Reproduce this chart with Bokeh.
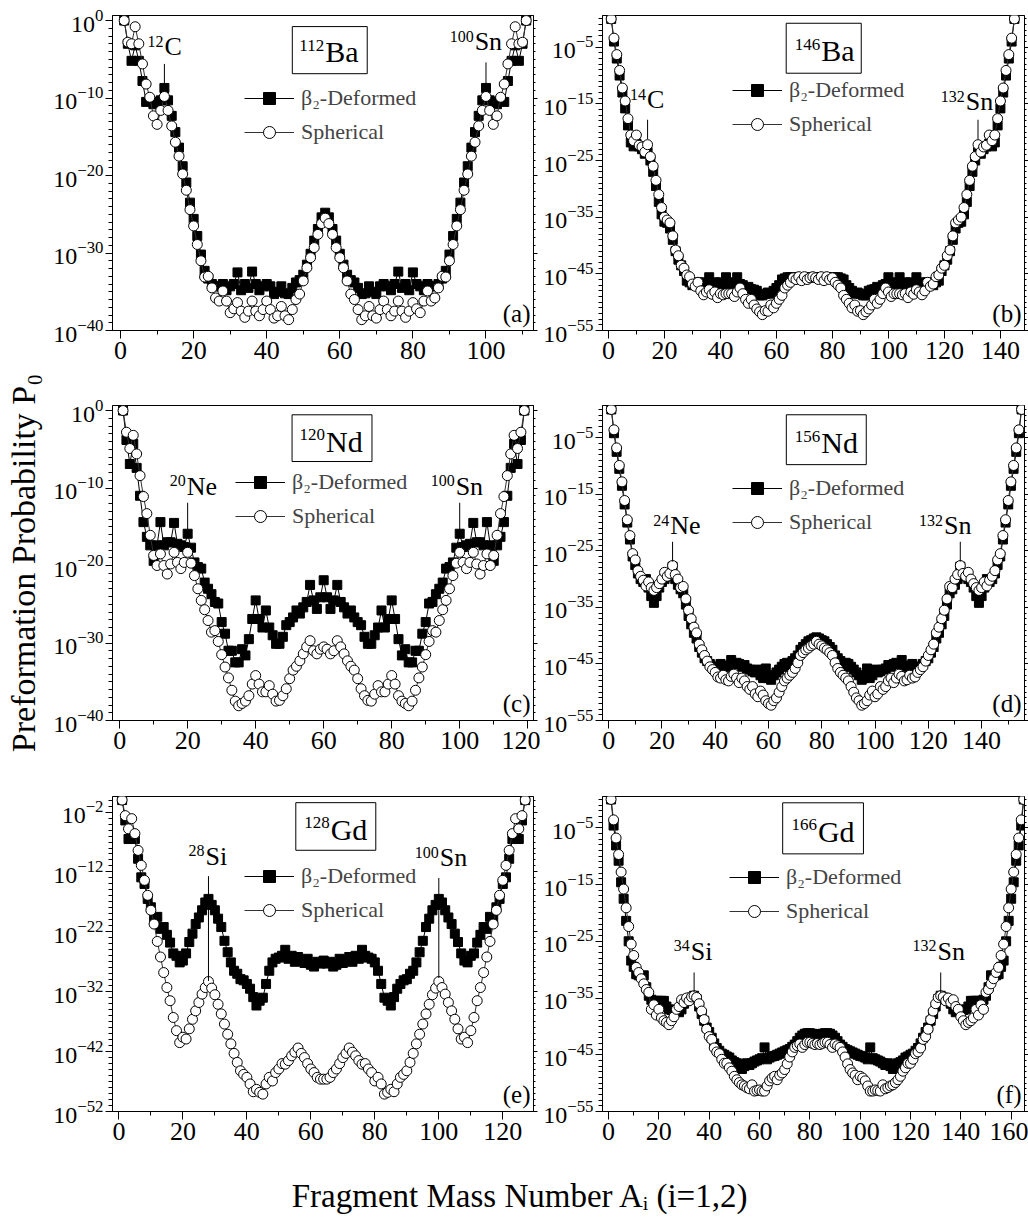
import numpy as np
from bokeh.plotting import figure
from bokeh.models import (Range1d, FixedTicker, SingleIntervalTicker, CustomJSTickFormatter,
                          LogTickFormatter, LogAxis, Label, Legend, LegendItem,
                          ColumnDataSource, BoxAnnotation)
from bokeh.layouts import column, row
from bokeh.embed import file_html
from bokeh.resources import INLINE

FONT = "Liberation Serif"

# ---------------- data: log10(P0) for fragment mass A1 = 1 .. A/2 (P0 is symmetric in A1 <-> A-A1)
mass_112Ba, mass_146Ba, mass_120Nd, mass_156Nd, mass_128Gd, mass_166Gd = 112, 146, 120, 156, 128, 166

ba112_deformed = [0.0, -3.0, -5.2, -3.2, -5.2, -7.8, -10.5, -10.3, -10.8, -10.5,
                  -10.3, -8.7, -10.3, -12.3, -14.4, -16.4, -18.8, -20.9, -23.5, -25.6,
                  -27.8, -30.2, -32.3, -33.3, -34.0, -34.3, -34.3, -34.0, -34.8, -34.3,
                  -34.0, -32.5, -34.8, -34.0, -34.5, -32.4, -34.0, -34.8, -34.3, -34.0,
                  -34.3, -35.3, -35.0, -34.3, -35.2, -35.3, -34.5, -33.8, -33.5, -32.8,
                  -31.5, -30.1, -28.4, -26.9, -25.4, -24.8]
ba112_spherical = [0.0, -2.8, -3.0, -0.8, -3.0, -5.6, -8.2, -9.9, -12.3, -13.4,
                   -11.6, -9.8, -11.6, -13.6, -15.7, -17.5, -19.8, -21.9, -24.4, -26.5,
                   -28.9, -31.0, -33.1, -33.0, -34.5, -35.8, -36.2, -34.9, -36.2, -37.7,
                   -37.2, -36.4, -37.5, -38.3, -37.5, -36.2, -37.5, -38.1, -37.3, -36.2,
                   -37.3, -38.4, -38.1, -36.9, -38.1, -38.6, -37.3, -36.0, -35.3, -33.6,
                   -31.9, -30.6, -29.3, -27.6, -26.2, -25.5]

ba146_deformed = [0.0, -4.0, -7.0, -10.0, -13.0, -15.8, -18.8, -21.8, -22.5, -22.0,
                  -22.5, -23.0, -23.8, -23.5, -25.0, -27.0, -29.5, -32.3, -34.5, -35.8,
                  -36.0, -37.0, -39.0, -41.0, -42.5, -43.5, -44.5, -46.2, -46.5, -47.0,
                  -46.8, -46.5, -47.0, -46.5, -46.8, -45.6, -46.8, -46.5, -47.0, -46.5,
                  -46.8, -45.6, -46.5, -46.8, -46.8, -45.6, -46.8, -47.0, -47.5, -47.3,
                  -47.7, -47.8, -48.0, -48.8, -48.8, -48.5, -48.3, -48.5, -48.0, -47.5,
                  -47.0, -46.0, -45.8, -45.6, -45.6, -45.6, -45.6, -45.6, -45.6, -45.6,
                  -45.6, -45.6, -45.6]
ba146_spherical = [0.0, -3.4, -6.3, -9.1, -12.2, -14.5, -17.6, -20.5, -21.5, -20.5,
                   -22.3, -22.6, -23.5, -22.2, -24.3, -26.0, -28.5, -31.0, -33.3, -35.0,
                   -35.5, -36.0, -38.3, -40.8, -41.8, -43.5, -44.0, -45.2, -45.5, -46.8,
                   -47.2, -46.5, -48.0, -48.7, -48.2, -47.8, -48.6, -48.2, -49.2, -48.5,
                   -48.7, -48.5, -48.5, -48.5, -49.0, -48.2, -47.5, -48.5, -49.5, -50.2,
                   -49.5, -50.5, -51.2, -51.7, -52.2, -51.5, -51.6, -50.5, -51.0, -50.2,
                   -49.5, -48.8, -47.5, -47.0, -46.5, -45.7, -46.0, -45.5, -46.2, -45.5,
                   -46.0, -45.7, -45.5]

nd120_deformed = [0.0, -3.8, -6.9, -4.3, -7.4, -11.0, -14.4, -16.3, -17.4, -19.4,
                  -17.4, -14.4, -17.4, -17.0, -17.0, -14.5, -17.2, -17.4, -17.6, -15.9,
                  -17.7, -19.6, -20.2, -20.4, -22.2, -23.0, -23.7, -24.7, -24.9, -27.3,
                  -28.8, -31.0, -31.0, -32.5, -32.5, -30.8, -31.6, -29.5, -26.9, -24.5,
                  -26.9, -28.0, -25.8, -28.0, -29.0, -30.1, -30.1, -29.2, -27.7, -27.3,
                  -26.7, -25.8, -26.2, -25.4, -24.7, -22.5, -24.5, -25.6, -24.1, -21.9]
nd120_spherical = [0.0, -2.8, -4.9, -3.2, -5.6, -8.4, -11.1, -13.3, -16.1, -18.7,
                   -20.0, -18.5, -20.0, -21.1, -19.8, -18.3, -19.6, -20.4, -19.6, -18.3,
                   -19.7, -21.3, -23.0, -24.5, -25.7, -27.1, -28.6, -28.4, -29.8, -31.5,
                   -33.1, -34.5, -36.1, -37.5, -38.1, -37.8, -37.5, -36.8, -35.3, -34.2,
                   -35.3, -36.3, -36.3, -35.5, -36.6, -37.5, -37.4, -36.8, -35.9, -34.6,
                   -33.5, -33.0, -32.3, -31.4, -30.5, -29.7, -31.0, -31.4, -30.8, -30.5]

nd156_deformed = [0.0, -4.2, -7.5, -10.5, -13.5, -16.8, -20.0, -23.0, -26.0, -27.5,
                  -29.0, -30.0, -30.5, -30.0, -31.5, -33.0, -34.2, -33.0, -31.5, -30.5,
                  -30.0, -29.5, -29.0, -27.8, -30.0, -31.0, -31.8, -32.5, -34.5, -36.5,
                  -38.0, -39.5, -40.5, -42.0, -43.0, -44.0, -44.5, -45.0, -45.5, -45.5,
                  -45.5, -45.0, -45.5, -45.3, -45.5, -44.3, -45.0, -44.8, -45.0, -45.5,
                  -45.2, -45.8, -46.0, -46.3, -46.5, -46.0, -47.0, -47.5, -45.8, -47.5,
                  -47.8, -47.0, -46.5, -46.0, -45.5, -45.0, -44.8, -45.5, -44.5, -44.0,
                  -43.5, -42.5, -42.0, -41.5, -41.0, -40.8, -40.5, -40.3]
nd156_spherical = [0.0, -3.6, -6.8, -9.9, -12.8, -16.1, -19.5, -22.3, -25.5, -26.6,
                   -28.5, -29.5, -30.2, -31.2, -30.5, -31.5, -32.0, -31.5, -30.8, -30.0,
                   -28.8, -29.5, -29.0, -27.6, -29.2, -30.0, -31.5, -31.3, -33.5, -35.5,
                   -37.0, -38.5, -39.5, -41.5, -42.5, -43.5, -44.5, -45.5, -46.0, -46.5,
                   -47.3, -47.5, -47.0, -47.8, -48.0, -47.2, -46.8, -47.5, -48.3, -47.5,
                   -48.0, -49.0, -49.5, -49.0, -50.3, -50.8, -49.8, -50.5, -51.5, -52.0,
                   -52.3, -51.5, -51.0, -50.0, -49.0, -48.0, -47.5, -47.0, -46.5, -45.8,
                   -44.8, -43.5, -43.0, -42.5, -42.2, -41.8, -41.5, -41.0]

gd128_deformed = [0.0, -3.4, -6.5, -5.9, -6.5, -9.8, -12.9, -14.0, -16.5, -17.9,
                  -19.8, -19.5, -21.5, -21.2, -22.5, -23.8, -25.6, -26.0, -27.1, -26.8,
                  -25.6, -23.7, -22.3, -20.7, -19.6, -18.4, -17.1, -16.5, -17.5, -18.4,
                  -19.8, -21.2, -23.5, -25.4, -27.1, -28.5, -29.0, -29.9, -30.1, -30.7,
                  -31.5, -32.9, -34.3, -33.5, -33.0, -30.7, -28.5, -27.1, -26.5, -26.3,
                  -26.0, -25.0, -26.5, -26.0, -27.0, -26.2, -26.8, -27.2, -26.5, -27.5,
                  -27.8, -27.0, -27.3, -26.8]
gd128_spherical = [0.0, -2.6, -4.8, -3.1, -5.6, -8.4, -10.9, -13.4, -15.9, -18.4,
                   -20.7, -23.6, -26.2, -28.8, -31.3, -33.5, -36.3, -38.5, -40.5, -39.6,
                   -39.9, -38.2, -36.6, -35.2, -33.8, -32.4, -31.3, -30.3, -31.4, -32.5,
                   -34.1, -35.7, -37.4, -39.1, -40.7, -42.3, -43.8, -45.2, -45.8, -46.3,
                   -47.4, -48.7, -48.3, -48.8, -49.1, -47.4, -46.3, -46.9, -45.5, -44.9,
                   -44.0, -44.1, -43.5, -42.7, -42.1, -41.4, -42.3, -43.0, -44.0, -44.9,
                   -45.5, -46.3, -46.6, -46.6]

gd166_deformed = [0.0, -4.6, -8.1, -10.8, -14.6, -17.5, -21.4, -25.0, -28.4, -29.5,
                  -30.8, -31.0, -31.1, -31.0, -33.1, -34.6, -35.3, -35.5, -35.5, -35.5,
                  -35.5, -35.5, -36.5, -37.0, -37.1, -37.1, -37.1, -37.5, -37.0, -36.0,
                  -35.5, -35.2, -34.9, -34.6, -35.2, -36.5, -37.8, -39.0, -40.2, -41.0,
                  -42.0, -43.0, -43.8, -44.3, -44.8, -45.0, -45.3, -45.5, -46.0, -46.3,
                  -46.5, -46.8, -47.5, -47.0, -46.5, -46.8, -46.5, -46.2, -46.0, -45.8,
                  -45.6, -43.7, -45.8, -45.5, -45.3, -45.2, -45.0, -44.8, -44.6, -44.4,
                  -44.2, -44.0, -43.6, -43.2, -42.6, -42.0, -41.6, -41.3, -41.2, -41.2,
                  -41.3, -41.4, -41.4]
gd166_spherical = [0.0, -3.6, -6.8, -9.7, -12.8, -15.8, -19.1, -22.4, -25.5, -27.5,
                   -29.6, -30.5, -31.6, -32.5, -33.5, -34.0, -37.0, -36.2, -38.0, -37.0,
                   -38.5, -39.0, -39.3, -39.7, -39.0, -38.3, -37.0, -36.5, -35.3, -35.8,
                   -35.0, -35.5, -34.8, -34.6, -34.9, -36.0, -37.3, -38.8, -40.5, -41.8,
                   -42.3, -43.8, -44.5, -44.8, -45.8, -46.5, -46.5, -47.3, -47.9, -48.8,
                   -49.4, -49.9, -50.3, -50.5, -50.8, -51.0, -50.3, -51.4, -51.3, -51.2,
                   -51.4, -51.4, -50.5, -49.6, -49.1, -48.8, -49.4, -48.6, -48.2, -47.6,
                   -46.6, -45.4, -44.5, -43.7, -43.4, -43.1, -43.7, -43.2, -42.8, -42.8,
                   -43.0, -43.2, -43.0]

# ---------------- helpers
def full_curve(half):
    h = list(half)
    return h + h[-2::-1]          # mirror: P0(A1) = P0(A - A1)

FRAME_W = {"L": 421, "R": 422}
BASE_FIX = 0.35   # baseline correction (fraction of font size)


def sup_label(p, xj, ylog, sup, main, main_size, sup_size, raise_px):
    p.add_layout(Label(x=xj, y=10.0 ** ylog, y_offset=BASE_FIX * main_size, text=main,
                       text_align="left", text_baseline="alphabetic", text_font=FONT,
                       text_font_size=f"{main_size}px", text_color="black"))
    p.add_layout(Label(x=xj, y=10.0 ** ylog, x_offset=-1,
                       y_offset=raise_px + BASE_FIX * sup_size, text=sup,
                       text_align="right", text_baseline="alphabetic", text_font=FONT,
                       text_font_size=f"{sup_size}px", text_color="black"))


def make_panel(A, dhalf, shalf, side, xr, ylog, major_exp, borders, nucleus, box,
               legend_loc, annotations, tag, ylabel=None):
    xs = list(range(1, A))
    d = 10.0 ** np.array(full_curve(dhalf))
    s = 10.0 ** np.array(full_curve(shalf))
    src = ColumnDataSource(dict(x=xs, d=d, s=s))
    bl, br, bt, bb = borders
    fw = FRAME_W[side]
    p = figure(width=bl + fw + br, height=bt + 315 + bb,
               x_range=Range1d(*xr), y_range=Range1d(10.0 ** ylog[0], 10.0 ** ylog[1]),
               y_axis_type="log", output_backend="svg", toolbar_location=None,
               min_border_left=bl, min_border_right=br, min_border_top=bt, min_border_bottom=bb)
    p.grid.visible = False
    p.outline_line_color = "black"
    p.outline_line_alpha = 1.0
    p.outline_line_width = 1
    p.background_fill_color = "white"

    lo, hi = int(np.floor(ylog[0])), int(np.ceil(ylog[1]))
    ya = p.left[0]
    ya.ticker = FixedTicker(ticks=[10.0 ** k for k in major_exp],
                            minor_ticks=[10.0 ** k for k in range(lo, hi + 1)])
    ya.formatter = LogTickFormatter()
    ya.major_label_text_font = FONT
    ya.major_label_text_font_size = "24px"
    ya.major_label_text_color = "black"
    ya.major_label_standoff = 2
    ya.major_tick_out = 7
    ya.major_tick_in = 0
    ya.minor_tick_out = 4
    ya.minor_tick_in = 0
    ya.axis_line_color = "black"
    if ylabel:
        ya.axis_label = ylabel
        ya.axis_label_text_font = FONT
        ya.axis_label_text_font_size = "34px"
        ya.axis_label_text_font_style = "normal"
        ya.axis_label_text_color = "black"
        ya.axis_label_standoff = 8

    ra = LogAxis(ticker=FixedTicker(ticks=[10.0 ** k for k in major_exp],
                                    minor_ticks=[10.0 ** k for k in range(lo, hi + 1)]),
                 formatter=CustomJSTickFormatter(code='return "";'),
                 major_label_text_font_size="8px", major_label_standoff=0,
                 major_tick_out=4, major_tick_in=0, minor_tick_out=2, minor_tick_in=0,
                 axis_line_color="black")
    p.add_layout(ra, "right")

    xa = p.below[0]
    xa.ticker = SingleIntervalTicker(interval=20, num_minor_ticks=2)
    xa.major_label_text_font = FONT
    xa.major_label_text_font_size = "26px"
    xa.major_label_text_color = "black"
    xa.major_label_standoff = 3
    xa.major_tick_out = 8
    xa.major_tick_in = 0
    xa.minor_tick_out = 4
    xa.minor_tick_in = 0
    xa.axis_line_color = "black"

    dl = p.line("x", "d", source=src, line_color="black", line_width=1)
    dm = p.scatter("x", "d", source=src, marker="square", size=9,
                   fill_color="black", line_color="black", line_width=1)
    sl = p.line("x", "s", source=src, line_color="#333333", line_width=1)
    sm = p.scatter("x", "s", source=src, marker="circle", size=10,
                   fill_color="white", line_color="black", line_width=1)

    leg = Legend(items=[LegendItem(label="\u03b2\u2082-Deformed", renderers=[dl, dm]),
                        LegendItem(label="Spherical", renderers=[sl, sm])],
                 location=legend_loc, padding=0, margin=0, spacing=4,
                 glyph_width=50, glyph_height=30, label_standoff=7,
                 label_text_font=FONT, label_text_font_size="22px",
                 border_line_color=None, background_fill_alpha=0.0)
    p.add_layout(leg)

    # framed nucleus name
    bx0, bx1, by0, by1 = box
    p.add_layout(BoxAnnotation(left=bx0, right=bx1, top=10.0 ** by0, bottom=10.0 ** by1,
                               fill_color="white", fill_alpha=1.0,
                               line_color="black", line_width=1, line_alpha=1.0))
    n_sup, n_main, n_x, n_y = nucleus
    sup_label(p, n_x, n_y, n_sup, n_main, 30, 17, 11)

    for (sup, main, tx, ty, lx, ly0, ly1) in annotations:
        sup_label(p, tx, ty, sup, main, 26, 16, 9)
        p.segment(x0=[lx], y0=[10.0 ** ly0], x1=[lx], y1=[10.0 ** ly1],
                  line_color="black", line_width=1)

    p.add_layout(Label(x=fw - 3, y=4, x_units="screen", y_units="screen", text=tag,
                       text_align="right", text_baseline="bottom", text_font=FONT,
                       text_font_size="25px", text_color="black"))
    return p


pa = make_panel(mass_112Ba, ba112_deformed, ba112_spherical, "L", (-2.2, 113.0), (-40, 0.65),
                [0, -10, -20, -30, -40], (112, 7, 15, 45),
                ("112", "Ba", 56.0, -5.39), (47.0, 67.5, -0.78, -6.86),
                (132, 183),
                [("12", "C", 12.0, -4.53, 12, -5.6, -8.2),
                 ("100", "Sn", 96.9, -3.88, 100, -5.4, -8.4)], "(a)")
pb = make_panel(mass_146Ba, ba146_deformed, ba146_spherical, "R", (-2.1, 148.6), (-55, 0.6),
                [-5, -15, -25, -35, -45, -55], (62, 4, 15, 45),
                ("146", "Ba", 76.0, -7.47), (63.5, 90.3, -0.77, -9.59),
                (130, 191),
                [("14", "C", 13.8, -15.9, 14, -17.8, -21.2),
                 ("132", "Sn", 127.6, -16.2, 132, -17.8, -21.2)], "(b)")
pc = make_panel(mass_120Nd, nd120_deformed, nd120_spherical, "L", (-2.1, 121.7), (-40, 0.65),
                [0, -10, -20, -30, -40], (112, 7, 30, 45),
                ("120", "Nd", 60.7, -5.29), (50.7, 74.2, -0.55, -6.58),
                (123, 189),
                [("20", "Ne", 19.7, -10.97, 20, -11.9, -15.3),
                 ("100", "Sn", 98.8, -10.97, 100, -11.9, -15.4)], "(c)",
                ylabel="Preformation Probability P\u2080")
pd_ = make_panel(mass_156Nd, nd156_deformed, nd156_spherical, "R", (-2.3, 156.1), (-55, 0.7),
                 [-5, -15, -25, -35, -45, -55], (62, 4, 30, 45),
                 ("156", "Nd", 79.8, -7.72), (66.7, 96.7, -0.94, -9.76),
                 (130, 183),
                 [("24", "Ne", 23.1, -22.2, 24, -23.4, -26.9),
                  ("132", "Sn", 125.9, -22.2, 132, -23.4, -26.9)], "(d)")
pe = make_panel(mass_128Gd, gd128_deformed, gd128_spherical, "L", (-2.0, 129.6), (-52, 0.6),
                [-2, -12, -22, -32, -42, -52], (112, 7, 31, 45),
                ("128", "Gd", 66.2, -6.6), (55.3, 80.3, -0.43, -8.38),
                (132, 186),
                [("28", "Si", 27.1, -10.88, 28, -12.7, -30.2),
                 ("100", "Sn", 100.3, -11.17, 100, -13.0, -29.7)], "(e)")
pf = make_panel(mass_166Gd, gd166_deformed, gd166_spherical, "R", (-2.4, 165.3), (-55, 0.52),
                [-5, -15, -25, -35, -45, -55], (62, 4, 31, 45),
                ("166", "Gd", 83.2, -7.42), (69.2, 101.3, -0.59, -9.59),
                (127, 185),
                [("34", "Si", 32.7, -28.4, 34, -30.5, -34.0),
                 ("132", "Sn", 130.7, -28.4, 132, -30.5, -34.0)], "(f)")

px = figure(width=1028, height=71, output_backend="svg", toolbar_location=None,
            x_axis_location=None, y_axis_location=None, min_border=0,
            outline_line_color=None, x_range=Range1d(0, 1), y_range=Range1d(0, 1))
px.grid.visible = False
px.add_layout(Label(x=520, y=32, x_units="screen", y_units="screen",
                    text="Fragment Mass Number A\u1d62 (i=1,2)", text_align="center",
                    text_baseline="middle", text_font=FONT, text_font_size="33px",
                    text_color="black"))

layout = column(row(pa, pb), row(pc, pd_), row(pe, pf), px)
open("out.html", "w").write(file_html(layout, INLINE))
